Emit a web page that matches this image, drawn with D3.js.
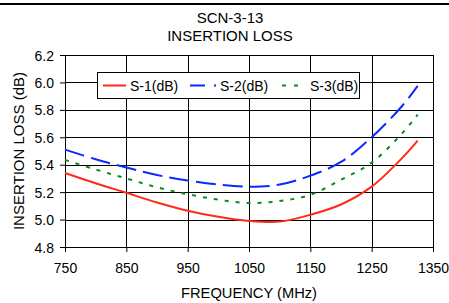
<!DOCTYPE html>
<html>
<head>
<meta charset="utf-8">
<script src="https://cdn.jsdelivr.net/npm/d3@7"></script>
<style>
  body { margin: 0; background: #fff; }
  svg text { font-family: "Liberation Sans", Arial, sans-serif; fill: #000; }
</style>
</head>
<body>
<div id="chart"></div>
<script>
// values
const freqs = [750, 800, 850, 900, 950, 1000, 1050, 1100, 1150, 1200, 1250, 1300, 1325];
const s1 = [5.34, 5.265, 5.195, 5.125, 5.065, 5.02, 4.99, 4.985, 5.035, 5.11, 5.24, 5.45, 5.575];
const s2 = [5.51, 5.44, 5.38, 5.325, 5.285, 5.255, 5.24, 5.255, 5.32, 5.42, 5.6, 5.83, 5.975];
const s3 = [5.435, 5.365, 5.3, 5.235, 5.185, 5.145, 5.12, 5.135, 5.18, 5.29, 5.415, 5.63, 5.765];
const xTicks = [750, 850, 950, 1050, 1150, 1250, 1350];
const yTicks = [4.8, 5.0, 5.2, 5.4, 5.6, 5.8, 6.0, 6.2];
const seriesNames = ["S-1(dB)", "S-2(dB)", "S-3(dB)"];

const W = 449, H = 303;
const margin = { top: 55, right: 16, bottom: 56, left: 65 },
    width = 433 - margin.left,
    height = 247 - margin.top;

const svg = d3.select("#chart")
    .append("svg")
    .attr("width", W)
    .attr("height", H);

// page rule at the top
svg.append("line")
    .attr("x1", 0).attr("x2", W)
    .attr("y1", 4).attr("y2", 4)
    .attr("stroke", "#000")
    .attr("stroke-width", 2);

svg.append("text")
    .attr("x", 230).attr("y", 23)
    .attr("text-anchor", "middle")
    .style("font-size", "15px")
    .text("SCN-3-13");
svg.append("text")
    .attr("x", 230).attr("y", 40.5)
    .attr("text-anchor", "middle")
    .style("font-size", "15px")
    .text("INSERTION LOSS");

const g = svg.append("g")
    .attr("transform", `translate(${margin.left},${margin.top})`);

const x = d3.scaleLinear().domain([750, 1350]).range([0, width]);
const y = d3.scaleLinear().domain([4.8, 6.2]).range([height, 0]);

// grid
g.selectAll(".hgrid")
    .data(yTicks)
    .enter()
    .append("line")
    .attr("x1", 0).attr("x2", width)
    .attr("y1", d => Math.round(y(d)) + 0.5)
    .attr("y2", d => Math.round(y(d)) + 0.5)
    .attr("stroke", "#000");
g.selectAll(".vgrid")
    .data(xTicks)
    .enter()
    .append("line")
    .attr("x1", d => Math.round(x(d)) + 0.5)
    .attr("x2", d => Math.round(x(d)) + 0.5)
    .attr("y1", 0).attr("y2", height)
    .attr("stroke", "#000");

// axes
const xAxis = g.append("g")
    .attr("transform", `translate(0,${height})`)
    .call(d3.axisBottom(x).tickValues(xTicks).tickSize(5).tickPadding(11).tickFormat(d3.format("d")));
const yAxis = g.append("g")
    .call(d3.axisLeft(y).tickValues(yTicks).tickSize(5).tickPadding(6).tickFormat(d3.format(".1f")));
[xAxis, yAxis].forEach(a => {
    a.select(".domain").attr("stroke", "#000");
    a.selectAll("line").attr("stroke", "#000");
    a.selectAll("text").style("font-size", "14px")
        .style("font-family", "'Liberation Sans', Arial, sans-serif");
});
yAxis.selectAll("text").attr("dy", "0.36em");

svg.append("text")
    .attr("x", margin.left + width / 2)
    .attr("y", 298)
    .attr("text-anchor", "middle")
    .style("font-size", "14.7px")
    .text("FREQUENCY (MHz)");
svg.append("text")
    .attr("transform", "rotate(-90)")
    .attr("x", -151)
    .attr("y", 24)
    .attr("text-anchor", "middle")
    .style("font-size", "15px")
    .text("INSERTION LOSS (dB)");

// curves
const styles = [
    { color: "#ff2a1a", dash: null, legendDash: null },
    { color: "#0a2aff", dash: "20,7", legendDash: "15,9,2,40" },
    { color: "#0a8a1e", dash: "4,7", legendDash: "4,8" }
];
const line = d3.line()
    .x(d => x(d[0]))
    .y(d => y(d[1]))
    .curve(d3.curveCatmullRom.alpha(0.5));

[s1, s2, s3].forEach((s, i) => {
    g.append("path")
        .datum(freqs.map((f, j) => [f, s[j]]))
        .attr("fill", "none")
        .attr("stroke", styles[i].color)
        .attr("stroke-width", 2)
        .attr("stroke-dasharray", styles[i].dash)
        .attr("d", line);
});

// legend
const leg = svg.append("g").attr("transform", "translate(97,72)");
leg.append("rect")
    .attr("x", 0.5).attr("y", 0.5)
    .attr("width", 262).attr("height", 26)
    .attr("fill", "#fff")
    .attr("stroke", "#000");
const legX = [6, 93, 185];
const legW = [23, 26, 24];
seriesNames.forEach((name, i) => {
    leg.append("line")
        .attr("x1", legX[i]).attr("x2", legX[i] + legW[i])
        .attr("y1", 13.5).attr("y2", 13.5)
        .attr("stroke", styles[i].color)
        .attr("stroke-width", 2)
        .attr("stroke-dasharray", styles[i].legendDash);
    leg.append("text")
        .attr("x", legX[i] + legW[i] + 4)
        .attr("y", 18.5)
        .style("font-size", "14px")
        .text(name);
});
</script>
</body>
</html>
